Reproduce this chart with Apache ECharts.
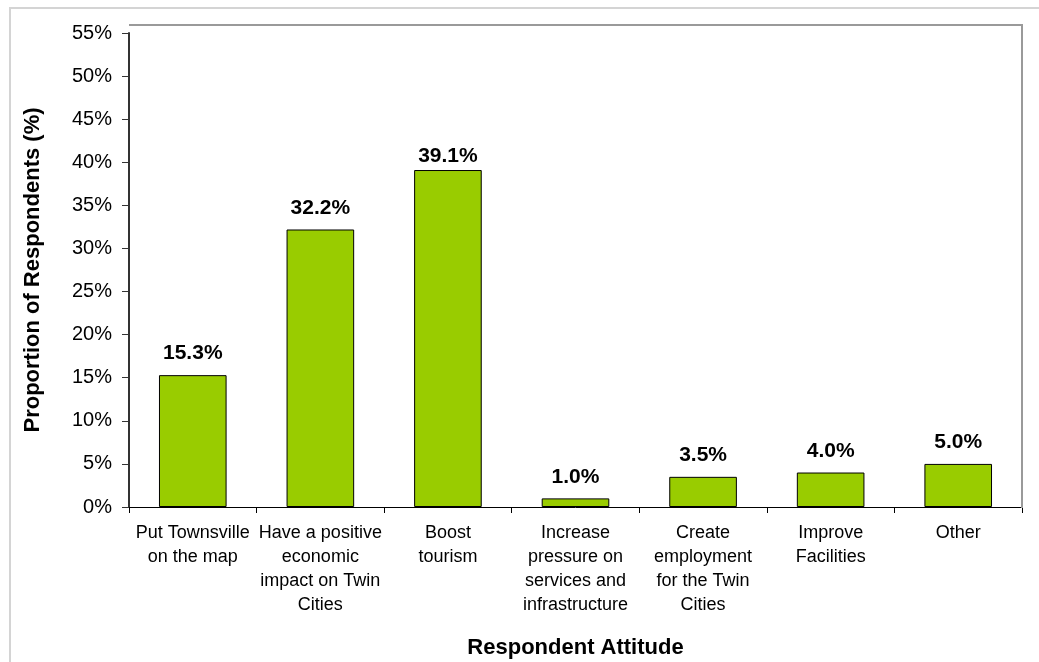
<!DOCTYPE html>
<html>
<head>
<meta charset="utf-8">
<script src="https://cdn.jsdelivr.net/npm/echarts@6/dist/echarts.min.js"></script>
<style>
  html, body { margin: 0; padding: 0; background: #fff; }
  #chart { width: 1039px; height: 662px; }
</style>
</head>
<body>
<div id="chart"></div>
<script>
// Respondent attitude categories (line breaks as shown under each bar)
const categories = [
  'Put Townsville\non the map',
  'Have a positive\neconomic\nimpact on Twin\nCities',
  'Boost\ntourism',
  'Increase\npressure on\nservices and\ninfrastructure',
  'Create\nemployment\nfor the Twin\nCities',
  'Improve\nFacilities',
  'Other'
];
// Proportion of respondents, percent
const proportions = [15.3, 32.2, 39.1, 1.0, 3.5, 4.0, 5.0];
// Value axis range and step (percent)
const yMin = 0;
const yMax = 55;
const yStep = 5;

const chart = echarts.init(document.getElementById('chart'), null, { renderer: 'canvas' });
const font = 'Arial, "Liberation Sans", sans-serif';

// The tallest bar's label sits a little tighter to its bar
const barData = proportions.map((v, i) =>
  i === 2 ? { value: v, label: { distance: 3 } } : v);

chart.setOption({
  backgroundColor: '#ffffff',
  animation: false,
  grid: { left: 129, right: 17, top: 33, bottom: 155, containLabel: false,
    outerBoundsMode: 'none' },
  graphic: [
    // outer chart frame
    { type: 'rect', shape: { x: 10, y: 8, width: 1200, height: 800 },
      style: { fill: 'none', stroke: '#d4d4d4', lineWidth: 2 }, silent: true, z: 0 },
    // plot area frame (top and right edges)
    { type: 'polyline', shape: { points: [[129, 25], [1022, 25], [1022, 508]] },
      style: { fill: 'none', stroke: '#9a9a9a', lineWidth: 2 }, silent: true, z: 10 }
  ],
  xAxis: {
    type: 'category',
    data: categories,
    name: 'Respondent Attitude',
    nameLocation: 'middle',
    nameGap: 130,
    nameTextStyle: { fontFamily: font, fontSize: 22, fontWeight: 'bold', color: '#000' },
    axisLine: { show: true, lineStyle: { color: '#000', width: 1 } },
    axisTick: { show: true, alignWithLabel: false, length: 6, lineStyle: { color: '#000' } },
    axisLabel: { interval: 0, fontFamily: font, fontSize: 18, color: '#000',
      lineHeight: 24, margin: 14, align: 'center' }
  },
  yAxis: {
    type: 'value',
    min: yMin,
    max: yMax,
    interval: yStep,
    name: 'Proportion of Respondents (%)',
    nameLocation: 'middle',
    nameGap: 85,
    nameRotate: 90,
    nameTextStyle: { fontFamily: font, fontSize: 22, fontWeight: 'bold', color: '#000' },
    axisLine: { show: true, lineStyle: { color: '#333', width: 2 } },
    axisTick: { show: true, length: 7, lineStyle: { color: '#333', width: 1 } },
    splitLine: { show: false },
    axisLabel: { fontFamily: font, fontSize: 20, color: '#000', margin: 17,
      formatter: v => v + '%' }
  },
  series: [{
    type: 'bar',
    data: barData,
    barWidth: '53%',
    itemStyle: { color: '#99cc00', borderColor: '#000', borderWidth: 1 },
    label: {
      show: true,
      position: 'top',
      distance: 11,
      fontFamily: font,
      fontSize: 21,
      fontWeight: 'bold',
      color: '#000',
      formatter: p => Number(p.value).toFixed(1) + '%'
    }
  }]
});
</script>
</body>
</html>
